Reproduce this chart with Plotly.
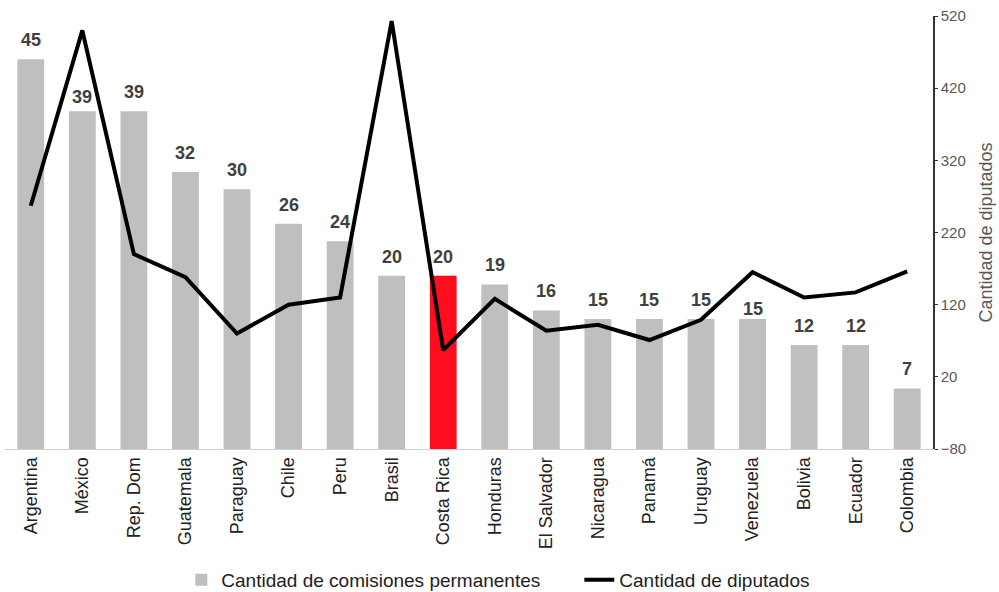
import plotly.graph_objects as go

paises = ["Argentina", "México", "Rep. Dom", "Guatemala", "Paraguay", "Chile", "Peru",
          "Brasil", "Costa Rica", "Honduras", "El Salvador", "Nicaragua", "Panamá",
          "Uruguay", "Venezuela", "Bolivia", "Ecuador", "Colombia"]
comisiones = [45, 39, 39, 32, 30, 26, 24, 20, 20, 19, 16, 15, 15, 15, 15, 12, 12, 7]
diputados = [257, 500, 190, 158, 80, 120, 130, 513, 57, 128, 84, 92, 71, 99, 165, 130, 137, 166]

FONT = "Arial, Liberation Sans, sans-serif"
bar_colors = ["#ff0d1f" if p == "Costa Rica" else "#bfbfbf" for p in paises]

fig = go.Figure()
fig.add_trace(go.Bar(
    x=paises, y=comisiones, name="Cantidad de comisiones permanentes",
    marker=dict(color=bar_colors, line=dict(width=0)), yaxis="y",
))
fig.add_trace(go.Scatter(
    x=paises, y=diputados, name="Cantidad de diputados", mode="lines",
    line=dict(color="#000000", width=4), yaxis="y2",
))

label_shift = {"México": 2, "Venezuela": -2}
annotations = []
for p, v in zip(paises, comisiones):
    annotations.append(dict(
        x=p, y=v, xref="x", yref="y", text=str(v), showarrow=False,
        yanchor="bottom", yshift=label_shift.get(p, 7),
        font=dict(family=FONT, size=18, color="#404040", weight="bold"),
    ))

fig.update_layout(
    width=999, height=592,
    margin=dict(l=5, r=66, t=16, b=143),
    paper_bgcolor="white", plot_bgcolor="white",
    bargap=0.48,
    font=dict(family=FONT),
    xaxis=dict(
        tickangle=-90, tickfont=dict(size=18, color="#222222"),
        showline=True, linecolor="#d0d0d0", linewidth=1,
        showgrid=False, ticks="", range=[-0.5, 17.5],
    ),
    yaxis=dict(range=[0, 50], visible=False, showgrid=False),
    yaxis2=dict(
        overlaying="y", side="right", range=[-80, 520],
        tick0=20, dtick=100, showgrid=False, zeroline=False,
        showline=True, linecolor="#333333", linewidth=1.5,
        ticks="outside", ticklen=3, tickcolor="#333333",
        tickfont=dict(size=15, color="#595959"),
        title=dict(text="Cantidad de diputados", font=dict(size=18, color="#595959"), standoff=14),
    ),
    legend=dict(
        orientation="h", x=0.19, xanchor="left",
        yref="container", y=0.0203, yanchor="middle",
        font=dict(size=19, color="#222222"), traceorder="normal",
        entrywidth=353, entrywidthmode="pixels",
    ),
    annotations=annotations,
    showlegend=True,
)

fig.write_html("out.html", config={"displayModeBar": False},
               post_script="document.body.style.margin='0';")
